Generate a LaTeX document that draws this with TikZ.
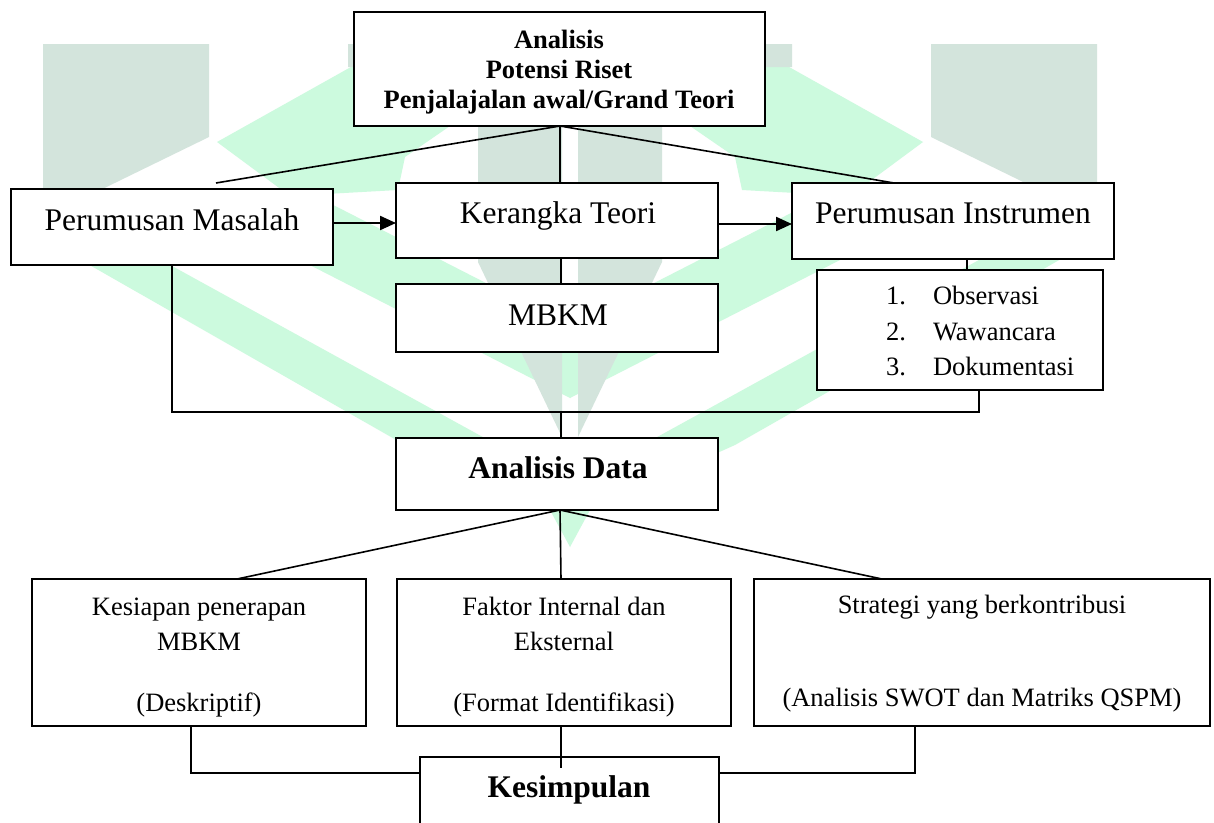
\documentclass[tikz,border=0pt]{standalone}
\usepackage{fontspec}
\setmainfont{Liberation Serif}
\usetikzlibrary{arrows.meta,fit}
\definecolor{wgreen}{RGB}{204,250,222}
\definecolor{wgray}{RGB}{211,228,220}
\newcommand{\fbig}{\fontsize{31.5pt}{36pt}\selectfont}
\newcommand{\fmid}{\fontsize{26.5pt}{30pt}\selectfont}
\newcommand{\halfmark}{%
  \fill[wgreen] (217,142) -- (392,44) -- (482,44) -- (482,100) -- (450,126) -- (405,157) -- (398,190) -- (290,196) -- cycle;
  \fill[wgreen] (83,217) -- (570,485) -- (570,547) -- (550,510) -- (405,445) -- (44,239) -- cycle;
  \fill[wgreen] (300,188) -- (570,326) -- (570,398) -- (300,260) -- cycle;
  \fill[wgray] (43,44) -- (209,44) -- (209,137) -- (43,218) -- cycle;
  \fill[wgray] (348,44) -- (570,44) -- (570,110) -- (376,110) -- (376,67) -- (348,67) -- cycle;
  \fill[wgray] (478,120) -- (562,120) -- (562,437) -- (478,262) -- cycle;
}
\begin{document}
\begin{tikzpicture}[x=1pt,y=-1pt,
  box/.style={draw=black, fill=white, line width=1.6pt, inner sep=0pt, outer sep=0pt},
  txt/.style={inner sep=0pt, outer sep=0pt, anchor=base, font=\fbig},
  stxt/.style={inner sep=0pt, outer sep=0pt, anchor=base, font=\fmid},
  conn/.style={line width=1.6pt},
  arr/.style={line width=2.2pt, -{Triangle[length=16pt,width=14pt]}}]
\useasboundingbox (0,0) rectangle (1214,822);
\clip (0,0) rectangle (1214,822);
\fill[white] (0,0) rectangle (1214,822);
% watermark
\halfmark
\begin{scope}[xshift=1140pt, xscale=-1]
\halfmark
\end{scope}
% boxes
\node[box, fit={(354,12) (765,126)}] (top) {};
\node[box, fit={(11,189) (333,265)}] (pm) {};
\node[box, fit={(396,183) (718,258)}] (kt) {};
\node[box, fit={(792,183) (1114,259)}] (pi) {};
\node[box, fit={(396,284) (718,352)}] (mb) {};
\node[box, fit={(817,270) (1103,390)}] (obs) {};
\node[box, fit={(396,438) (718,510)}] (ad) {};
\node[box, fit={(32,579) (366,726)}] (ks) {};
\node[box, fit={(397,579) (731,726)}] (fi) {};
\node[box, fit={(754,579) (1210,726)}] (st) {};
\node[box, fit={(420,757) (719,870)}] (kc) {};
% texts
\node[stxt, font=\fmid\bfseries] (t1) at (559,48) {Analisis};
\node[stxt, font=\fmid\bfseries] (t2) at (559,78) {Potensi Riset};
\node[stxt, font=\fmid\bfseries] (t3) at (559,108) {Penjalajalan awal/Grand Teori};
\node[txt] (tpm) at (172,230) {Perumusan Masalah};
\node[txt] (tkt) at (558,223) {Kerangka Teori};
\node[txt] (tpi) at (953,223) {Perumusan Instrumen};
\node[txt] (tmb) at (558,325) {MBKM};
\node[stxt, anchor=base west] (n1) at (886,304) {1.};
\node[stxt, anchor=base west] (n2) at (886,340) {2.};
\node[stxt, anchor=base west] (n3) at (886,375) {3.};
\node[stxt, anchor=base west] (o1) at (933,304) {Observasi};
\node[stxt, anchor=base west] (o2) at (933,340) {Wawancara};
\node[stxt, anchor=base west] (o3) at (933,375) {Dokumentasi};
\node[txt, font=\fbig\bfseries] (tad) at (558,478) {Analisis Data};
\node[stxt] (k1) at (199,615) {Kesiapan penerapan};
\node[stxt] (k2) at (199,650) {MBKM};
\node[stxt] (k3) at (199,711) {(Deskriptif)};
\node[stxt] (f1) at (564,615) {Faktor Internal dan};
\node[stxt] (f2) at (564,650) {Eksternal};
\node[stxt] (f3) at (564,711) {(Format Identifikasi)};
\node[stxt] (s1) at (982,613) {Strategi yang berkontribusi};
\node[stxt] (s2) at (982,706) {(Analisis SWOT dan Matriks QSPM)};
\node[txt, font=\fbig\bfseries] (tkc) at (569,797) {Kesimpulan};
% connectors
\coordinate (pmtop) at (216,183);
\coordinate (tb) at (560,126);
\draw[conn] (tb) -- (pmtop);
\draw[conn] (tb) -- (kt.north -| tb);
\draw[conn] (tb) -- (pi.north -| 894,0);
\draw[arr] (pm.east |- 0,223) -- (kt.west |- 0,223);
\draw[arr] (kt.east |- 0,224) -- (pi.west |- 0,224);
\draw[conn] (kt.south -| 561,0) -- (mb.north -| 561,0);
\draw[conn] (pi.south -| 967,0) -- (obs.north -| 967,0);
\coordinate (jl) at (172,412);
\coordinate (jr) at (979,412);
\coordinate (jc) at (561,412);
\draw[conn] (pm.south -| jl) -- (jl) -- (jr) -- (obs.south -| jr);
\draw[conn] (jc) -- (ad.north -| jc);
\coordinate (ab) at (560,510);
\draw[conn] (ab) -- (ks.north -| 237,0);
\draw[conn] (ab) -- (fi.north -| 561,0);
\draw[conn] (ab) -- (st.north -| 882,0);
\coordinate (kl) at (191,773);
\coordinate (kr) at (915,773);
\coordinate (fc) at (561,768);
\draw[conn] (ks.south -| kl) -- (kl) -- (kc.west |- kl);
\draw[conn] (st.south -| kr) -- (kr) -- (kc.east |- kr);
\draw[conn] (fi.south -| fc) -- (fc);
\end{tikzpicture}
\end{document}
